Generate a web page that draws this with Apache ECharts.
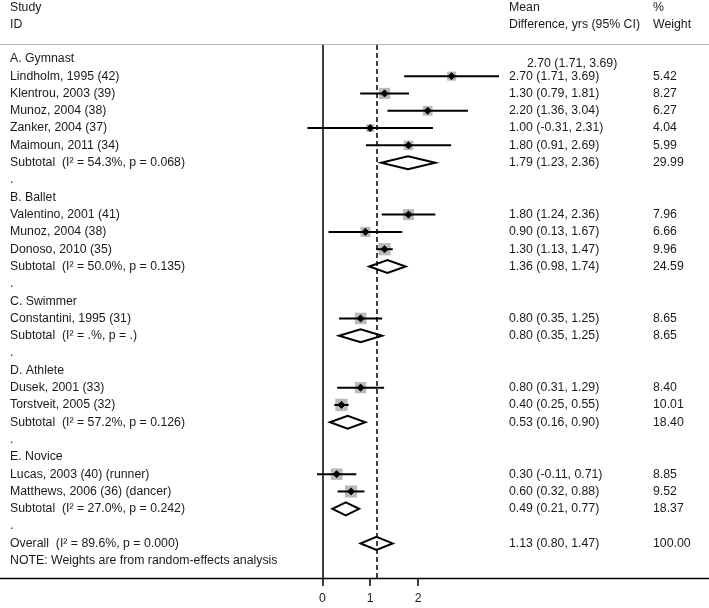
<!DOCTYPE html>
<html><head><meta charset="utf-8">
<script src="https://cdn.jsdelivr.net/npm/echarts@6/dist/echarts.min.js"></script>
<style>html,body{margin:0;padding:0;background:#fff}#c{width:709px;height:608px}</style>
</head><body><div id="c"></div>
<script>
const rowLabels = [
  'A. Gymnast','Lindholm, 1995 (42)','Klentrou, 2003 (39)','Munoz, 2004 (38)','Zanker, 2004 (37)','Maimoun, 2011 (34)',
  'Subtotal  (I² = 54.3%, p = 0.068)','.',
  'B. Ballet','Valentino, 2001 (41)','Munoz, 2004 (38)','Donoso, 2010 (35)','Subtotal  (I² = 50.0%, p = 0.135)','.',
  'C. Swimmer','Constantini, 1995 (31)','Subtotal  (I² = .%, p = .)','.',
  'D. Athlete','Dusek, 2001 (33)','Torstveit, 2005 (32)','Subtotal  (I² = 57.2%, p = 0.126)','.',
  'E. Novice','Lucas, 2003 (40) (runner)','Matthews, 2006 (36) (dancer)','Subtotal  (I² = 27.0%, p = 0.242)','.',
  'Overall  (I² = 89.6%, p = 0.000)','NOTE: Weights are from random-effects analysis'
];
const rowKinds = [
  'group','study','study','study','study','study','pooled','blank',
  'group','study','study','study','pooled','blank',
  'group','study','pooled','blank',
  'group','study','study','pooled','blank',
  'group','study','study','pooled','blank',
  'pooled','note'
];
const estimates = [null,2.70,1.30,2.20,1.00,1.80,1.79,null, null,1.80,0.90,1.30,1.36,null, null,0.80,0.80,null, null,0.80,0.40,0.53,null, null,0.30,0.60,0.49,null, 1.13,null];
const lowers    = [null,1.71,0.79,1.36,-0.31,0.91,1.23,null, null,1.24,0.13,1.13,0.98,null, null,0.35,0.35,null, null,0.31,0.25,0.16,null, null,-0.11,0.32,0.21,null, 0.80,null];
const uppers    = [null,3.69,1.81,3.04,2.31,2.69,2.36,null, null,2.36,1.67,1.47,1.74,null, null,1.25,1.25,null, null,1.29,0.55,0.90,null, null,0.71,0.88,0.77,null, 1.47,null];
const weights   = [null,5.42,8.27,6.27,4.04,5.99,29.99,null, null,7.96,6.66,9.96,24.59,null, null,8.65,8.65,null, null,8.40,10.01,18.40,null, null,8.85,9.52,18.37,null, 100.00,null];
const xTickValues = [0,1,2];
const headerStudy = ['Study','ID'];
const headerEffect = ['Mean','Difference, yrs (95% CI)'];
const headerWeight = ['%','Weight'];
const overallEstimate = 1.13;

const FONT = '12.3px "Liberation Sans", Arial, Helvetica, sans-serif';
const TXT = '#1a1a1a';
const PX0 = 322.3, UNIT = 47.9, W = 709;
const COL_LABEL = 10, COL_CI = 509, COL_WT = 653;

function ciText(i){ return estimates[i].toFixed(2)+' ('+lowers[i].toFixed(2)+', '+uppers[i].toFixed(2)+')'; }

const markData = [];
const textData = [];
rowLabels.forEach((lab,i)=>{
  textData.push([0,i]);
  if (estimates[i] != null) {
    markData.push([estimates[i], i, lowers[i], uppers[i], weights[i], rowKinds[i]==='pooled'?1:0]);
  }
});

const chart = echarts.init(document.getElementById('c'), null, {renderer:'canvas'});

function renderMark(params, api){
  const y = api.value(1);
  const c = api.coord([api.value(0), y]);
  const l = api.coord([api.value(2), y])[0];
  const h = api.coord([api.value(3), y])[0];
  if (api.value(5) === 1) {
    const hh = 6.5;
    return {type:'polygon', shape:{points:[[l,c[1]],[c[0],c[1]-hh],[h,c[1]],[c[0],c[1]+hh]]},
      style:{fill:'#fff', stroke:'#000', lineWidth:2}};
  }
  const s = 3.9*Math.sqrt(api.value(4));
  const d = 3.6;
  return {type:'group', children:[
    {type:'rect', shape:{x:c[0]-s/2, y:c[1]-s/2, width:s, height:s}, style:{fill:'#bababa'}},
    {type:'line', shape:{x1:l, y1:c[1], x2:h, y2:c[1]}, style:{stroke:'#000', lineWidth:2}},
    {type:'polygon', shape:{points:[[c[0]-d,c[1]],[c[0],c[1]-d],[c[0]+d,c[1]],[c[0],c[1]+d]]}, style:{fill:'#000', stroke:'#000', lineWidth:0.8}}
  ]};
}

function txt(x, y, t){
  return {type:'text', x:x, y:y, style:{text:t, fill:TXT, font:FONT, align:'left', verticalAlign:'middle', textAlign:'left', textVerticalAlign:'middle'}};
}

function renderText(params, api){
  const i = api.value(1);
  const y = api.coord([0, i])[1];
  const kids = [txt(COL_LABEL, y, rowLabels[i])];
  if (estimates[i] != null) {
    kids.push(txt(COL_CI, y, ciText(i)));
    kids.push(txt(COL_WT, y, weights[i].toFixed(2)));
  }
  return {type:'group', children:kids};
}

const graphics = [
  {type:'line', shape:{x1:0,y1:44.5,x2:W,y2:44.5}, style:{stroke:'#b3b3b3', lineWidth:1}, silent:true},
  txt(COL_LABEL, 8, headerStudy[0]), txt(COL_LABEL, 25, headerStudy[1]),
  txt(COL_CI, 8, headerEffect[0]), txt(COL_CI, 25, headerEffect[1]),
  txt(COL_WT, 8, headerWeight[0]), txt(COL_WT, 25, headerWeight[1]),
  txt(527, 64, ciText(1))
];

chart.setOption({
  animation:false,
  backgroundColor:'#fff',
  grid:{left:0, right:0, top:45, bottom:30},
  xAxis:{type:'value', min:-PX0/UNIT, max:(W-PX0)/UNIT,
    splitLine:{show:false},
    axisLine:{show:true, onZero:false, lineStyle:{color:'#000', width:1.3}},
    axisTick:{show:true, customValues:xTickValues, length:8, inside:false, lineStyle:{color:'#000', width:1.5}},
    axisLabel:{show:true, customValues:xTickValues, margin:15, color:TXT, fontSize:12.3, fontFamily:'"Liberation Sans", Arial, sans-serif'}
  },
  yAxis:{type:'value', inverse:true, min:-0.8, max:30, show:false, splitLine:{show:false}},
  graphic:graphics,
  series:[
    {type:'custom', renderItem:renderMark, data:markData, encode:{x:0,y:1}, z:3, silent:true,
      markLine:{silent:true, symbol:'none', label:{show:false}, animation:false,
        data:[
          {xAxis:0, lineStyle:{color:'#000', width:1.5, type:'solid'}},
          {xAxis:overallEstimate, lineStyle:{color:'#000', width:1.5, type:[5,3]}}
        ]}
    },
    {type:'custom', renderItem:renderText, data:textData, encode:{x:0,y:1}, z:4, silent:true}
  ]
});
</script></body></html>
